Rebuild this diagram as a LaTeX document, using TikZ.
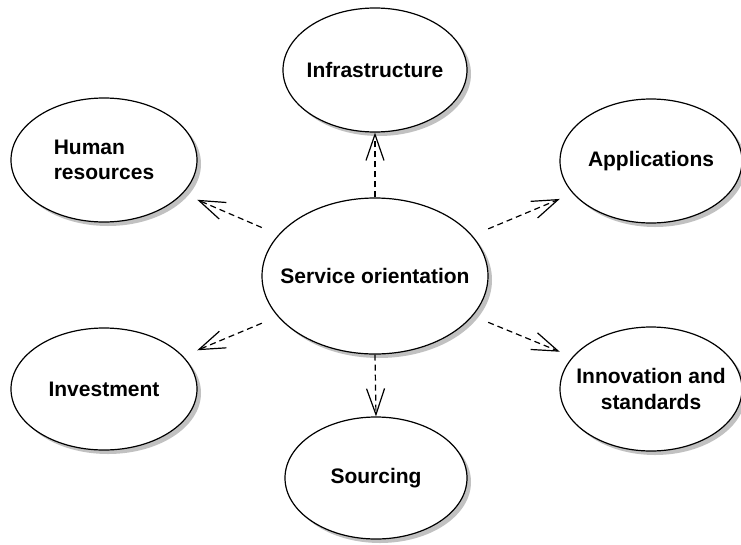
\documentclass[tikz,border=0pt]{standalone}
\usepackage{fontspec}
\setmainfont{Liberation Sans}
\usetikzlibrary{shapes.geometric,shadows,arrows.meta}
\begin{document}
\begin{tikzpicture}[x=1pt,y=1pt,
  bubble/.style={ellipse, draw=black, line width=1.2pt, fill=white, inner sep=-40pt,
    font=\fontsize{21}{25.7}\selectfont\bfseries, align=center,
    drop shadow={shadow xshift=4pt, shadow yshift=-4pt, fill=black!30, opacity=0.8}},
  bbox/.style={rectangle, draw=none, inner sep=0pt},
  dep/.style={line width=1.2pt, dash pattern=on 6pt off 4pt,
    -{Straight Barb[length=26pt, width=18pt, line width=1.2pt]}}]
\useasboundingbox (0,0) rectangle (741,-544);
% ellipses
\node[bubble, minimum width=226pt, minimum height=156pt] (so) at (375,-276) {Service orientation};
\node[bubble, minimum width=184pt, minimum height=124pt] (inf) at (375,-70) {Infrastructure};
\node[bubble, minimum width=186pt, minimum height=124pt, align=left] (hr) at (104,-160) {Human\\resources};
\node[bubble, minimum width=182pt, minimum height=124pt] (app) at (651,-161) {Applications};
\node[bubble, minimum width=186pt, minimum height=122pt] (inv) at (104,-389) {Investment};
\node[bubble, minimum width=182pt, minimum height=124pt] (inn) at (651,-389) {Innovation and\\standards};
\node[bubble, minimum width=182pt, minimum height=122pt] (src) at (376,-478) {Sourcing};
% bounding boxes used for connector ends
\node[bbox, minimum width=226pt, minimum height=156pt] (soB) at (so.center) {};
\node[bbox, minimum width=184pt, minimum height=124pt] (infB) at (inf.center) {};
\node[bbox, minimum width=186pt, minimum height=124pt] (hrB) at (hr.center) {};
\node[bbox, minimum width=182pt, minimum height=124pt] (appB) at (app.center) {};
\node[bbox, minimum width=186pt, minimum height=122pt] (invB) at (inv.center) {};
\node[bbox, minimum width=182pt, minimum height=124pt] (innB) at (inn.center) {};
\node[bbox, minimum width=182pt, minimum height=122pt] (srcB) at (src.center) {};
% connectors
\draw[dep] (so.north) -- (inf.south);
\draw[dep] (so.south) -- (src.north);
\draw[dep] (soB) -- (hrB);
\draw[dep] (soB) -- (appB);
\draw[dep] (soB) -- (invB);
\draw[dep] (soB) -- (innB);
\end{tikzpicture}
\end{document}
